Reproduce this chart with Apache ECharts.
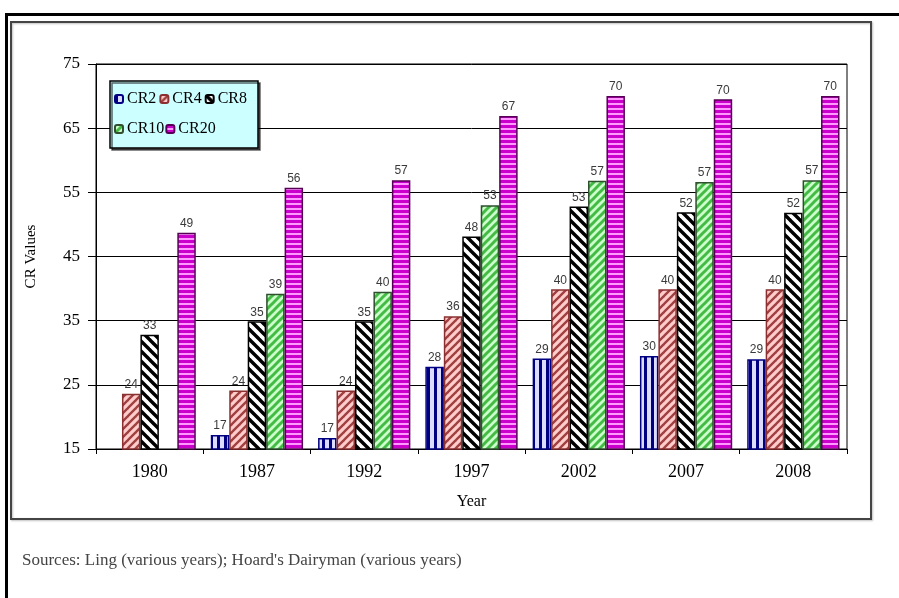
<!DOCTYPE html>
<html>
<head>
<meta charset="utf-8">
<script src="https://cdn.jsdelivr.net/npm/echarts@6/dist/echarts.min.js"></script>
<style>
html,body{margin:0;padding:0;background:#fff;}
#chart{width:899px;height:598px;}
</style>
</head>
<body>
<div id="chart"></div>
<script>
// ---- data ----
var years = ['1980', '1987', '1992', '1997', '2002', '2007', '2008'];
var cr2  = [null, 17.2, 16.7, 27.8, 29.1, 29.5, 29.0];
var cr4  = [23.6, 24.1, 24.1, 35.7, 39.9, 39.9, 39.9];
var cr8  = [32.8, 34.9, 34.9, 48.1, 52.8, 51.9, 51.8];
var cr10 = [null, 39.2, 39.5, 53.0, 56.8, 56.6, 56.9];
var cr20 = [48.7, 55.7, 56.9, 66.9, 70.0, 69.5, 70.0];
var yTicks = [15, 25, 35, 45, 55, 65, 75];
var seriesNames = ['CR2', 'CR4', 'CR8', 'CR10', 'CR20'];
var sourceText = "Sources: Ling (various years); Hoard's Dairyman (various years)";

// ---- patterns ----
function makeCanvas(w, h, bg) {
  var c = document.createElement('canvas');
  c.width = w; c.height = h;
  var ctx = c.getContext('2d');
  ctx.fillStyle = bg; ctx.fillRect(0, 0, w, h);
  return c;
}
function vertStripes(p, lw, bg, fg) {
  var c = makeCanvas(p, p, bg), ctx = c.getContext('2d');
  ctx.fillStyle = fg; ctx.fillRect(0, 0, lw, p);
  return c;
}
function horzStripes(p, lw, bg, fg) {
  var c = makeCanvas(p, p, bg), ctx = c.getContext('2d');
  ctx.fillStyle = fg; ctx.fillRect(0, 0, p, lw);
  return c;
}
function diag(p, lw, bg, fg, forward) {
  var c = makeCanvas(p, p, bg), ctx = c.getContext('2d');
  ctx.strokeStyle = fg; ctx.lineWidth = lw; ctx.lineCap = 'square';
  for (var k = -1; k <= 1; k++) {
    var x0 = k * p;
    ctx.beginPath();
    if (forward) { ctx.moveTo(x0, p); ctx.lineTo(x0 + p, 0); }
    else { ctx.moveTo(x0, 0); ctx.lineTo(x0 + p, p); }
    ctx.stroke();
  }
  return c;
}
var pat = {
  CR2: {image: vertStripes(7, 3, '#dcdcff', '#000080'), repeat: 'repeat'},
  CR4: {image: diag(8, 2.4, '#ffcccc', '#a04040', true), repeat: 'repeat'},
  CR8: {image: diag(10, 3.4, '#ffffff', '#000000', false), repeat: 'repeat'},
  CR10: {image: diag(8, 3, '#ccffcc', '#44bb44', true), repeat: 'repeat'},
  CR20: {image: horzStripes(5, 3, '#ff99ff', '#cc00cc'), repeat: 'repeat'}
};
var borders = {CR2: '#000080', CR4: '#8b3030', CR8: '#000000', CR10: '#2f4f2f', CR20: '#550055'};
var allData = {CR2: cr2, CR4: cr4, CR8: cr8, CR10: cr10, CR20: cr20};

var serif = '"Liberation Serif", "Times New Roman", serif';

var series = seriesNames.map(function (n) {
  return {
    name: n,
    type: 'bar',
    data: allData[n],
    barGap: '0%',
    barCategoryGap: '14%',
    itemStyle: {color: pat[n], borderColor: borders[n], borderWidth: 1.5},
    label: {
      show: true,
      position: 'top',
      distance: 3,
      fontFamily: 'Arial, "Liberation Sans", sans-serif',
      fontSize: 12,
      color: '#3a3a3a',
      formatter: function (p) { return Math.round(p.value); }
    },
    emphasis: {disabled: true}
  };
});

var chart = echarts.init(document.getElementById('chart'), null, {renderer: 'canvas'});
chart.setOption({
  animation: false,
  backgroundColor: '#ffffff',
  grid: {left: 96, right: 52, top: 64, bottom: 149, show: true, borderColor: '#000', borderWidth: 1},
  legend: [
    {
      data: ['CR2', 'CR4', 'CR8'],
      left: 114, top: 91, padding: 0,
      itemWidth: 8, itemHeight: 8, itemGap: 3,
      textStyle: {fontFamily: serif, fontSize: 16, color: '#000', padding: [0, 0, 0, -1]},
      selectedMode: false, z: 10
    },
    {
      data: ['CR10', 'CR20'],
      left: 114, top: 121, padding: 0,
      itemWidth: 8, itemHeight: 8, itemGap: 1,
      textStyle: {fontFamily: serif, fontSize: 16, color: '#000', padding: [0, 0, 0, -1]},
      selectedMode: false, z: 10
    }
  ],
  xAxis: {
    type: 'category',
    data: years,
    name: 'Year',
    nameLocation: 'middle',
    nameGap: 45,
    nameTextStyle: {fontFamily: serif, fontSize: 16, color: '#000'},
    axisLine: {lineStyle: {color: '#000', width: 1}},
    axisTick: {show: true, length: 5, lineStyle: {color: '#000'}},
    axisLabel: {fontFamily: serif, fontSize: 18, color: '#000', margin: 14}
  },
  yAxis: {
    type: 'value',
    min: yTicks[0],
    max: yTicks[yTicks.length - 1],
    interval: 10,
    name: 'CR Values',
    nameLocation: 'middle',
    nameGap: 57,
    nameTextStyle: {fontFamily: serif, fontSize: 15, color: '#000'},
    axisLine: {show: true, lineStyle: {color: '#000', width: 1}},
    axisTick: {show: true, length: 8, lineStyle: {color: '#000'}},
    axisLabel: {fontFamily: serif, fontSize: 17, color: '#000', margin: 16},
    splitLine: {show: true, lineStyle: {color: '#000', width: 1}}
  },
  series: series,
  graphic: [
    {type: 'line', shape: {x1: 5, y1: 14.5, x2: 899, y2: 14.5}, style: {stroke: '#000', lineWidth: 3}, z: 1},
    {type: 'line', shape: {x1: 6.5, y1: 13, x2: 6.5, y2: 598}, style: {stroke: '#000', lineWidth: 3}, z: 1},
    {type: 'rect', shape: {x: 11, y: 22, width: 860, height: 497},
      style: {fill: 'none', stroke: '#444', lineWidth: 2, shadowBlur: 2, shadowColor: 'rgba(0,0,0,0.25)', shadowOffsetX: 1, shadowOffsetY: 1}, z: 1},
    {type: 'rect', shape: {x: 110, y: 81, width: 148, height: 67},
      style: {fill: '#ccffff', stroke: '#000', lineWidth: 1.5, shadowBlur: 0, shadowColor: 'rgba(0,0,0,0.6)', shadowOffsetX: 2, shadowOffsetY: 2}, z: 5},
    {type: 'text', left: 22, top: 552,
      style: {text: sourceText, font: '17px ' + serif, fill: '#444'}, z: 5}
  ]
});
</script>
</body>
</html>
